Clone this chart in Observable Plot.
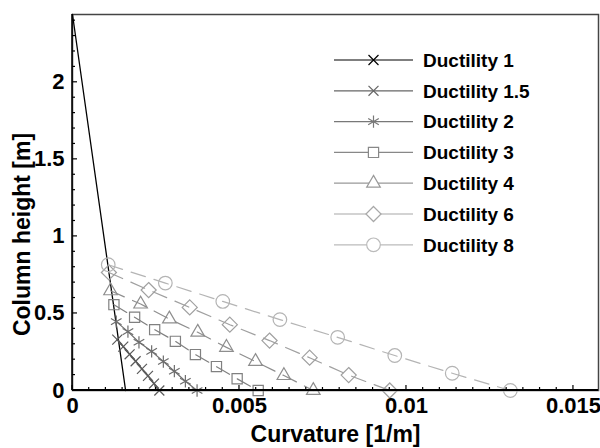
<!DOCTYPE html>
<html><head><meta charset="utf-8">
<script src="https://cdn.jsdelivr.net/npm/d3@7"></script>
<script src="https://cdn.jsdelivr.net/npm/@observablehq/plot@0.6"></script>
<style>body{margin:0;background:#fff}</style>
</head><body><div id="chart"></div>
<script>
// ---- data ----
const seriesNames = ["Ductility 1","Ductility 1.5","Ductility 2","Ductility 3","Ductility 4","Ductility 6","Ductility 8"];
const d1x  = [0, 0.00159];
const d1y  = [2.44, 0];
const d15x = [0.00134, 0.00152, 0.00171, 0.00189, 0.00208, 0.00226, 0.00244, 0.00260];
const d15y = [0.330, 0.285, 0.235, 0.190, 0.140, 0.095, 0.045, 0];
const d2x  = [0.00131, 0.00166, 0.00199, 0.00237, 0.00272, 0.00305, 0.00338, 0.00373];
const d2y  = [0.447, 0.382, 0.313, 0.254, 0.188, 0.125, 0.060, 0];
const d3x  = [0.00124, 0.00186, 0.00246, 0.00308, 0.00368, 0.00431, 0.00493, 0.00556];
const d3y  = [0.557, 0.475, 0.395, 0.319, 0.233, 0.155, 0.076, 0];
const d4x  = [0.00114, 0.00204, 0.00290, 0.00375, 0.00461, 0.00548, 0.00633, 0.00721];
const d4y  = [0.647, 0.561, 0.464, 0.378, 0.280, 0.188, 0.097, 0];
const d6x  = [0.00109, 0.00228, 0.00351, 0.00471, 0.00590, 0.00710, 0.00827, 0.00950];
const d6y  = [0.766, 0.652, 0.539, 0.427, 0.324, 0.213, 0.100, 0];
const d8x  = [0.00107, 0.00278, 0.00450, 0.00621, 0.00794, 0.00965, 0.01137, 0.01311];
const d8y  = [0.816, 0.697, 0.578, 0.460, 0.345, 0.227, 0.112, 0];
const xTicks = [0, 0.005, 0.01, 0.015];
const xTickLabels = ["0", "0.005", "0.01", "0.015"];
const yTicks = [0, 0.5, 1, 1.5, 2];
const yTickLabels = ["0", "0.5", "1", "1.5", "2"];
const xMinor = d3.range(0, 31).map(i => +(i * 0.0005).toFixed(4));
const yMinor = d3.range(0, 25).map(i => +(i * 0.1).toFixed(1));
const xLabel = "Curvature [1/m]";
const yLabel = "Column height [m]";

// ---- styles ----
const colors  = ["#000000", "#5a5a5a", "#6e6e6e", "#808080", "#8e8e8e", "#a0a0a0", "#b4b4b4"];
const legendColors = ["#000000", "#666666", "#787878", "#888888", "#999999", "#a8a8a8", "#bbbbbb"];
const symbols = ["times", "times", "asterisk", "square2", "triangle2", "diamond2", "circle"];
const d3symbols = [d3.symbolTimes, d3.symbolTimes, d3.symbolAsterisk, d3.symbolSquare2, d3.symbolTriangle2, d3.symbolDiamond2, d3.symbolCircle];
const radii   = [4.6, 4.6, 5.8, 6.5, 6.5, 6.8, 6.8];
const dashes  = [null, null, null, "15,9", "15,9", "15,9", "15,9"];
const widths  = [1.3, 1.6, 1.2, 1.2, 1.2, 1.2, 1.2];

const xs = [d1x, d15x, d2x, d3x, d4x, d6x, d8x];
const ys = [d1y, d15y, d2y, d3y, d4y, d6y, d8y];
const rows = seriesNames.flatMap((s, k) => xs[k].map((x, i) => ({series: s, k, x, y: ys[k][i]})));

const font = "'Liberation Sans', Arial, sans-serif";
const marks = [];
seriesNames.forEach((s, k) => {
  const data = rows.filter(r => r.k === k);
  marks.push(Plot.line(data, {x: "x", y: "y", stroke: colors[k], strokeWidth: widths[k], strokeDasharray: dashes[k]}));
  if (k > 0) marks.push(Plot.dot(data, {x: "x", y: "y", symbol: symbols[k], r: radii[k], stroke: colors[k], strokeWidth: 1.2, fill: "none"}));
});

const plot = Plot.plot({
  width: 600, height: 448,
  marginLeft: 72, marginRight: 2, marginTop: 14, marginBottom: 58,
  style: {fontFamily: font, fontWeight: "bold", fontSize: "22px", color: "#000", background: "#fff"},
  x: {domain: [0, 0.01575]},
  y: {domain: [0, 2.44]},
  marks: [
    Plot.frame({stroke: "#444", strokeWidth: 1.5}),
    ...marks,
    Plot.axisX({ticks: xTicks, tickFormat: d => xTickLabels[xTicks.indexOf(d)], tickSize: 0, tickPadding: 7, label: null, fontSize: 22}),
    Plot.axisY({ticks: yTicks, tickFormat: d => yTickLabels[yTicks.indexOf(d)], tickSize: 0, tickPadding: 8, label: null, fontSize: 22}),
    Plot.text([xLabel], {frameAnchor: "bottom", dy: 51, text: d => d, fontSize: 23, fontWeight: "bold"}),
    Plot.text([yLabel], {frameAnchor: "left", dx: -50, dy: 32, rotate: -90, textAnchor: "middle", text: d => d, fontSize: 23, fontWeight: "bold"})
  ]
});
document.getElementById("chart").appendChild(plot);

// ---- inward ticks and axis lines, via the plot's own scales ----
const svg = d3.select(plot);
const sx = plot.scale("x"), sy = plot.scale("y");
const x0 = sx.apply(0), y0 = sy.apply(0);
const g = svg.append("g").attr("stroke", "#000").attr("stroke-width", 1.2);
xMinor.forEach(v => {
  const major = xTicks.some(t => Math.abs(t - v) < 1e-9);
  const px = sx.apply(v);
  g.append("line").attr("x1", px).attr("x2", px).attr("y1", y0).attr("y2", y0 - (major ? 5 : 3));
});
yMinor.forEach(v => {
  const major = yTicks.some(t => Math.abs(t - v) < 1e-9);
  const py = sy.apply(v);
  g.append("line").attr("y1", py).attr("y2", py).attr("x1", x0).attr("x2", x0 + (major ? 5 : 3));
});
g.append("line").attr("x1", x0).attr("x2", sx.apply(0.01575)).attr("y1", y0).attr("y2", y0).attr("stroke-width", 1.8);
g.append("line").attr("x1", x0).attr("x2", x0).attr("y1", y0).attr("y2", sy.apply(2.44)).attr("stroke-width", 1.5);

// ---- legend ----
const lg = svg.append("g").attr("font-family", font).attr("font-weight", "bold").attr("font-size", 19).attr("text-anchor", "start");
seriesNames.forEach((s, k) => {
  const yy = 60 + k * 30.8;
  lg.append("line").attr("x1", 334).attr("x2", 413).attr("y1", yy).attr("y2", yy)
    .attr("stroke", legendColors[k]).attr("stroke-width", 1.2);
  lg.append("path").attr("d", d3.symbol(d3symbols[k], Math.PI * radii[k] * radii[k])())
    .attr("transform", `translate(373.5,${yy})`).attr("fill", k === 0 ? "none" : "#fff")
    .attr("stroke", legendColors[k]).attr("stroke-width", 1.2);
  lg.append("text").attr("x", 423).attr("y", yy).attr("dy", "0.36em").attr("fill", "#000").attr("text-anchor", "start").text(s);
});
</script>
</body></html>
